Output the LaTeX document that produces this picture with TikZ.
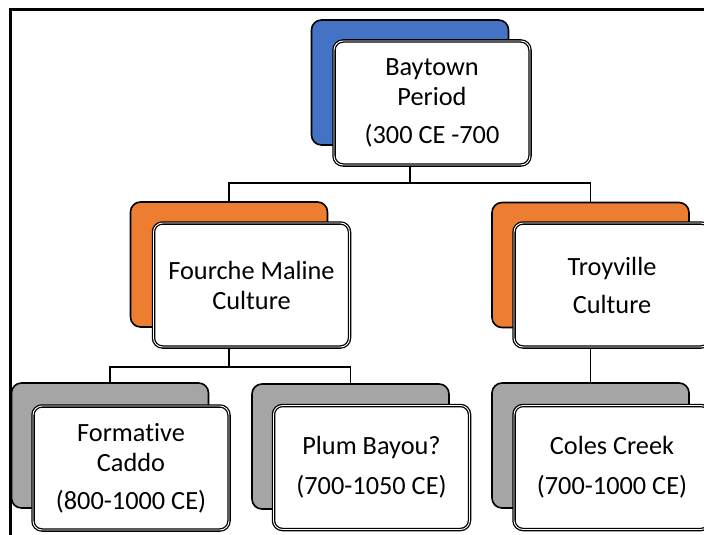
\documentclass[tikz,border=0pt]{standalone}
\usepackage{fontspec}
\setmainfont{Carlito}[Ligatures=NoCommon]
\definecolor{cblue}{HTML}{4472C4}
\definecolor{corange}{HTML}{ED7D31}
\definecolor{cgray}{HTML}{A5A5A5}
\begin{document}
\begin{tikzpicture}[x=1pt,y=-1pt,
  backbox/.style={draw=black, line width=1.6pt, rounded corners=10pt,
    minimum width=197pt, minimum height=125pt, inner sep=0pt},
  frontbox/.style={draw=black, double=white, double distance=0.9pt, line width=1.3pt,
    fill=white, rounded corners=9pt, minimum width=196pt, minimum height=124pt,
    inner sep=0pt, align=center, font=\fontsize{26.3}{30}\selectfont},
  conn/.style={draw=black, line width=1.4pt}]
\useasboundingbox (0,0) rectangle (704,535);
\fill[white] (0,0) rectangle (704,535);
\draw[line width=3pt] (10.5,545) -- (10.5,10) -- (720,10);

% junction points
\coordinate (j1) at (410,183);
\coordinate (j2) at (229,367);

% back boxes
\node[backbox, fill=cblue]   (topB) at (410,82.5) {};
\node[backbox, fill=corange] (fmB)  at (229,264.5) {};
\node[backbox, fill=corange] (trB)  at (590.5,265) {};
\node[backbox, fill=cgray]   (fcB)  at (110,445.5) {};
\node[backbox, fill=cgray]   (pbB)  at (350.5,446.5) {};
\node[backbox, fill=cgray]   (ccB)  at (590.5,445.5) {};

% connectors
\draw[conn] (topB.center |- 0,166) -- (j1);
\draw[conn] (fmB.north) -- (fmB.north |- j1) -- (trB.north |- j1) -- (trB.north);
\draw[conn] (fmB.center |- 0,347) -- (j2);
\draw[conn] (fcB.north) -- (fcB.north |- j2) -- (pbB.north |- j2) -- (pbB.north);
\draw[conn] (trB.center |- 0,347) -- (ccB.north);

% front boxes
\node[frontbox] (topF) at (432,103) {Baytown\\Period\\[8pt](300 CE -700};
\node[frontbox] (fmF)  at (251.5,285) {Fourche Maline\\Culture};
\node[frontbox] (trF)  at (612,285) {Troyville\\[8pt]Culture};
\node[frontbox] (fcF)  at (131,468) {Formative\\Caddo\\[8pt](800-1000 CE)};
\node[frontbox] (pbF)  at (371.5,467.5) {Plum Bayou?\\[10pt](700-1050 CE)};
\node[frontbox] (ccF)  at (612,467.5) {Coles Creek\\[10pt](700-1000 CE)};
\end{tikzpicture}
\end{document}
